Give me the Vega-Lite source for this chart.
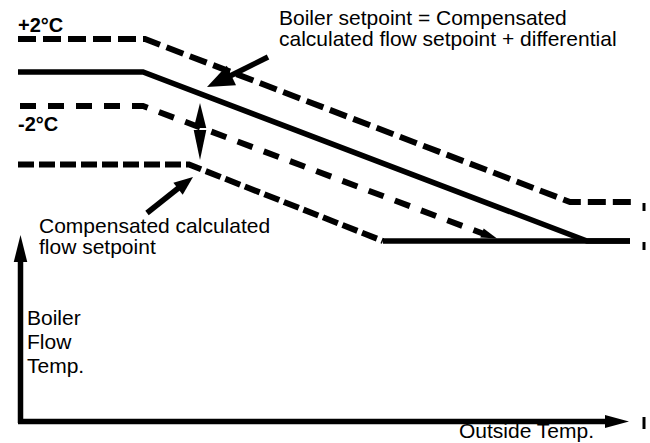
{
  "$schema": "https://vega.github.io/schema/vega-lite/v6.json",
  "width": 650,
  "height": 443,
  "padding": 0,
  "autosize": "none",
  "background": "white",
  "config": {"view": {"stroke": null}},
  "datasets": {
    "plus2": [
      {"x": 18, "y": 39, "o": 1}, {"x": 145, "y": 39, "o": 2}, {"x": 570, "y": 202, "o": 3}, {"x": 632, "y": 202, "o": 4}
    ],
    "minus2": [
      {"x": 20, "y": 106, "o": 1}, {"x": 143, "y": 106, "o": 2}, {"x": 484, "y": 234, "o": 3}
    ],
    "flowsp": [
      {"x": 18, "y": 164.5, "o": 1}, {"x": 189, "y": 164.5, "o": 2}, {"x": 383, "y": 241, "o": 3}
    ],
    "solid": [
      {"id": "boiler", "x": 18, "y": 72, "o": 1}, {"id": "boiler", "x": 143, "y": 72, "o": 2}, {"id": "boiler", "x": 587, "y": 241, "o": 3}, {"id": "boiler", "x": 630, "y": 241, "o": 4},
      {"id": "flat", "x": 383, "y": 241, "o": 1}, {"id": "flat", "x": 630, "y": 241, "o": 2},
      {"id": "yaxis", "x": 20.5, "y": 423, "o": 1}, {"id": "yaxis", "x": 20.5, "y": 258, "o": 2},
      {"id": "xaxis", "x": 18, "y": 421.5, "o": 1}, {"id": "xaxis", "x": 608, "y": 421.5, "o": 2},
      {"id": "bigarrow", "x": 268, "y": 57, "o": 1}, {"id": "bigarrow", "x": 230, "y": 76, "o": 2},
      {"id": "cornerarrow", "x": 147, "y": 213, "o": 1}, {"id": "cornerarrow", "x": 181, "y": 186, "o": 2}
    ],
    "heads": [
      {"x": 20.5, "y": 235, "a": 0, "s": 729, "sh": "M0,0L0.5,2L-0.5,2Z"},
      {"x": 629, "y": 421.5, "a": 90, "s": 576, "sh": "M0,0L0.55,2L-0.55,2Z"},
      {"x": 207, "y": 87, "a": 244.6, "s": 729, "sh": "M0,0L0.8,2L-0.8,2Z"},
      {"x": 193, "y": 177, "a": 52, "s": 361, "sh": "M0,0L0.8,2L-0.8,2Z"},
      {"x": 200, "y": 103, "a": 0, "s": 625, "sh": "M0,0L0.5,2L-0.5,2Z"},
      {"x": 200, "y": 160, "a": 180, "s": 900, "sh": "M0,0L0.42,2L-0.42,2Z"},
      {"x": 497, "y": 238.5, "a": 110.5, "s": 256, "sh": "M0,0L0.6,2L-0.6,2Z"}
    ],
    "ticks": [
      {"x": 644, "y": 203, "y2": 211},
      {"x": 644, "y": 242, "y2": 250},
      {"x": 644, "y": 417, "y2": 429}
    ],
    "labels": [
      {"x": 279, "y": 25, "t": "Boiler setpoint = Compensated"},
      {"x": 279, "y": 46, "t": "calculated flow setpoint + differential"},
      {"x": 39, "y": 233, "t": "Compensated calculated"},
      {"x": 39, "y": 254, "t": "flow setpoint"},
      {"x": 27, "y": 325, "t": "Boiler"},
      {"x": 27, "y": 349, "t": "Flow"},
      {"x": 27, "y": 373, "t": "Temp."},
      {"x": 459, "y": 438, "t": "Outside Temp."}
    ],
    "boldlabels": [
      {"x": 18, "y": 32, "t": "+2°C"},
      {"x": 18, "y": 131, "t": "-2°C"}
    ]
  },
  "encoding": {
    "x": {"field": "x", "type": "quantitative", "scale": {"domain": [0, 650], "nice": false, "zero": false}, "axis": null},
    "y": {"field": "y", "type": "quantitative", "scale": {"domain": [0, 443], "reverse": true, "nice": false, "zero": false}, "axis": null}
  },
  "layer": [
    {
      "data": {"name": "plus2"},
      "mark": {"type": "line", "color": "black", "strokeWidth": 6, "strokeDash": [18, 7], "strokeCap": "butt", "strokeJoin": "miter"},
      "encoding": {"order": {"field": "o", "type": "quantitative"}}
    },
    {
      "data": {"name": "minus2"},
      "mark": {"type": "line", "color": "black", "strokeWidth": 6, "strokeDash": [16, 12], "strokeCap": "butt", "strokeJoin": "miter"},
      "encoding": {"order": {"field": "o", "type": "quantitative"}}
    },
    {
      "data": {"name": "flowsp"},
      "mark": {"type": "line", "color": "black", "strokeWidth": 6, "strokeDash": [16, 5], "strokeCap": "butt", "strokeJoin": "miter"},
      "encoding": {"order": {"field": "o", "type": "quantitative"}}
    },
    {
      "data": {"name": "solid"},
      "mark": {"type": "line", "color": "black", "strokeWidth": 5.5, "strokeCap": "butt", "strokeJoin": "miter"},
      "encoding": {
        "detail": {"field": "id", "type": "nominal"},
        "order": {"field": "o", "type": "quantitative"}
      }
    },
    {
      "data": {"name": "heads"},
      "mark": {"type": "point", "filled": true, "color": "black", "opacity": 1, "strokeWidth": 0},
      "encoding": {
        "angle": {"field": "a", "type": "quantitative", "scale": null},
        "size": {"field": "s", "type": "quantitative", "scale": null},
        "shape": {"field": "sh", "type": "nominal", "scale": null}
      }
    },
    {
      "data": {"name": "ticks"},
      "mark": {"type": "rule", "color": "black", "strokeWidth": 3},
      "encoding": {"y2": {"field": "y2"}}
    },
    {
      "data": {"name": "labels"},
      "mark": {"type": "text", "align": "left", "baseline": "alphabetic", "font": "Liberation Sans", "fontSize": 21, "color": "black"},
      "encoding": {"text": {"field": "t", "type": "nominal"}}
    },
    {
      "data": {"name": "boldlabels"},
      "mark": {"type": "text", "align": "left", "baseline": "alphabetic", "font": "Liberation Sans", "fontSize": 20, "fontWeight": "bold", "color": "black"},
      "encoding": {"text": {"field": "t", "type": "nominal"}}
    }
  ]
}
